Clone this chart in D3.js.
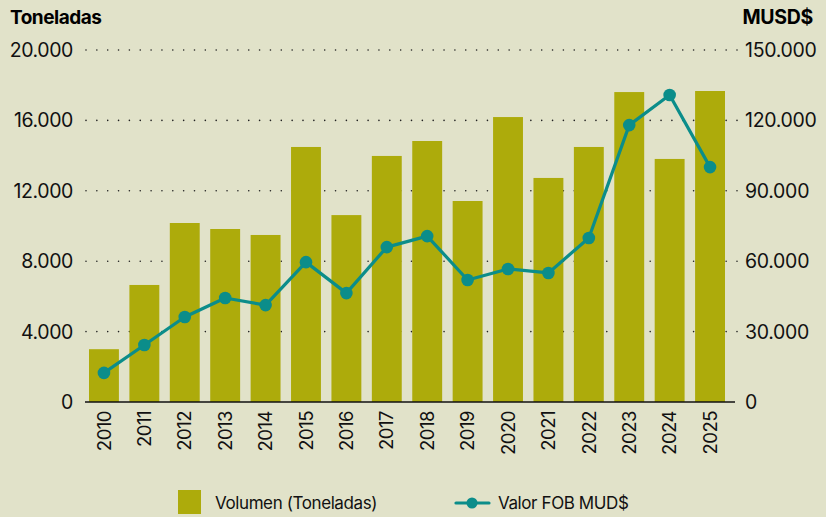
<!DOCTYPE html>
<html><head><meta charset="utf-8">
<script src="https://cdn.jsdelivr.net/npm/d3@7"></script>
<style>
html,body{margin:0;padding:0;background:#e1e2c9;}
svg{display:block;font-family:Inter,"Liberation Sans",Arial,sans-serif;}
</style></head>
<body><svg id="c" width="826" height="517"></svg>
<script>
const years = ["2010","2011","2012","2013","2014","2015","2016","2017","2018","2019","2020","2021","2022","2023","2024","2025"];
const volumen = [3000,6650,10170,9830,9490,14490,10620,13980,14830,11420,16190,12730,14490,17610,13810,17670];
const valorFOB = [12400,24300,36200,44300,41300,59600,46400,66000,70700,52000,56700,55000,69900,118000,130800,100100];
const leftTicks = [0,4000,8000,12000,16000,20000];
const rightTicks = [0,30000,60000,90000,120000,150000];

const svg = d3.select("#c");
const fmt = v => d3.format(",")(v).replace(/,/g,".");
const x = d3.scaleBand().domain(years).range([89,725]).paddingInner(0.26).paddingOuter(0);
const yL = d3.scaleLinear().domain([0,20000]).range([402,50]);
const yR = d3.scaleLinear().domain([0,150000]).range([402,50]);

// grid
svg.append("g").selectAll("line").data(leftTicks.filter(d=>d>0)).join("line")
  .attr("x1",86).attr("x2",738).attr("y1",d=>yL(d)).attr("y2",d=>yL(d))
  .attr("stroke","#222").attr("stroke-width",1.6).attr("stroke-linecap","round")
  .attr("stroke-dasharray","0 10.85");

// bars
svg.append("g").selectAll("rect").data(years).join("rect")
  .attr("x",d=>x(d)).attr("width",x.bandwidth())
  .attr("y",(d,i)=>yL(volumen[i])).attr("height",(d,i)=>yL(0)-yL(volumen[i]))
  .attr("fill","#adab0b");

// baseline
svg.append("line").attr("x1",85).attr("x2",735).attr("y1",402).attr("y2",402)
  .attr("stroke","#111").attr("stroke-width",1.6);

// left axis labels
svg.append("g").selectAll("text").data(leftTicks).join("text")
  .attr("x",73).attr("y",d=>yL(d)).attr("dy","0.36em").attr("text-anchor","end")
  .attr("font-size",19.5).attr("letter-spacing",-0.4).attr("fill","#111").text(fmt);
// right axis labels
svg.append("g").selectAll("text").data(rightTicks).join("text")
  .attr("x",745).attr("y",d=>yR(d)).attr("dy","0.36em").attr("text-anchor","start")
  .attr("font-size",19.5).attr("letter-spacing",-0.3).attr("fill","#111").text(fmt);

// x labels
svg.append("g").selectAll("text").data(years).join("text")
  .attr("transform",d=>`translate(${x(d)+x.bandwidth()/2},411) rotate(-90)`)
  .attr("text-anchor","end").attr("dy","0.36em")
  .attr("font-size",18.5).attr("letter-spacing",-0.5).attr("fill","#111").text(d=>d);

// titles
svg.append("text").attr("x",10).attr("y",24).attr("font-size",19).attr("font-weight","bold")
  .attr("letter-spacing",-0.5).attr("fill","#000").text("Toneladas");
svg.append("text").attr("x",813).attr("y",24).attr("font-size",19.5).attr("font-weight","bold")
  .attr("text-anchor","end").attr("letter-spacing",-0.3).attr("fill","#000").text("MUSD$");

// line
const teal = "#0b8d8a";
const line = d3.line().x((d,i)=>x(years[i])+x.bandwidth()/2).y(d=>yR(d));
svg.append("path").datum(valorFOB).attr("d",line).attr("fill","none")
  .attr("stroke",teal).attr("stroke-width",3.2).attr("stroke-linejoin","round");
svg.append("g").selectAll("circle").data(valorFOB).join("circle")
  .attr("cx",(d,i)=>x(years[i])+x.bandwidth()/2).attr("cy",d=>yR(d)).attr("r",6.3).attr("fill",teal);

// legend
svg.append("rect").attr("x",178).attr("y",490).attr("width",23).attr("height",24).attr("fill","#adab0b");
svg.append("text").attr("x",215).attr("y",509).attr("font-size",17).attr("letter-spacing",-0.4).attr("fill","#111").text("Volumen (Toneladas)");
svg.append("line").attr("x1",456).attr("x2",489).attr("y1",503).attr("y2",503).attr("stroke",teal).attr("stroke-width",3.2).attr("stroke-linecap","round");
svg.append("circle").attr("cx",472).attr("cy",503).attr("r",5.5).attr("fill",teal);
svg.append("text").attr("x",498).attr("y",509).attr("font-size",17).attr("letter-spacing",-0.4).attr("fill","#111").text("Valor FOB MUD$");
</script></body></html>
